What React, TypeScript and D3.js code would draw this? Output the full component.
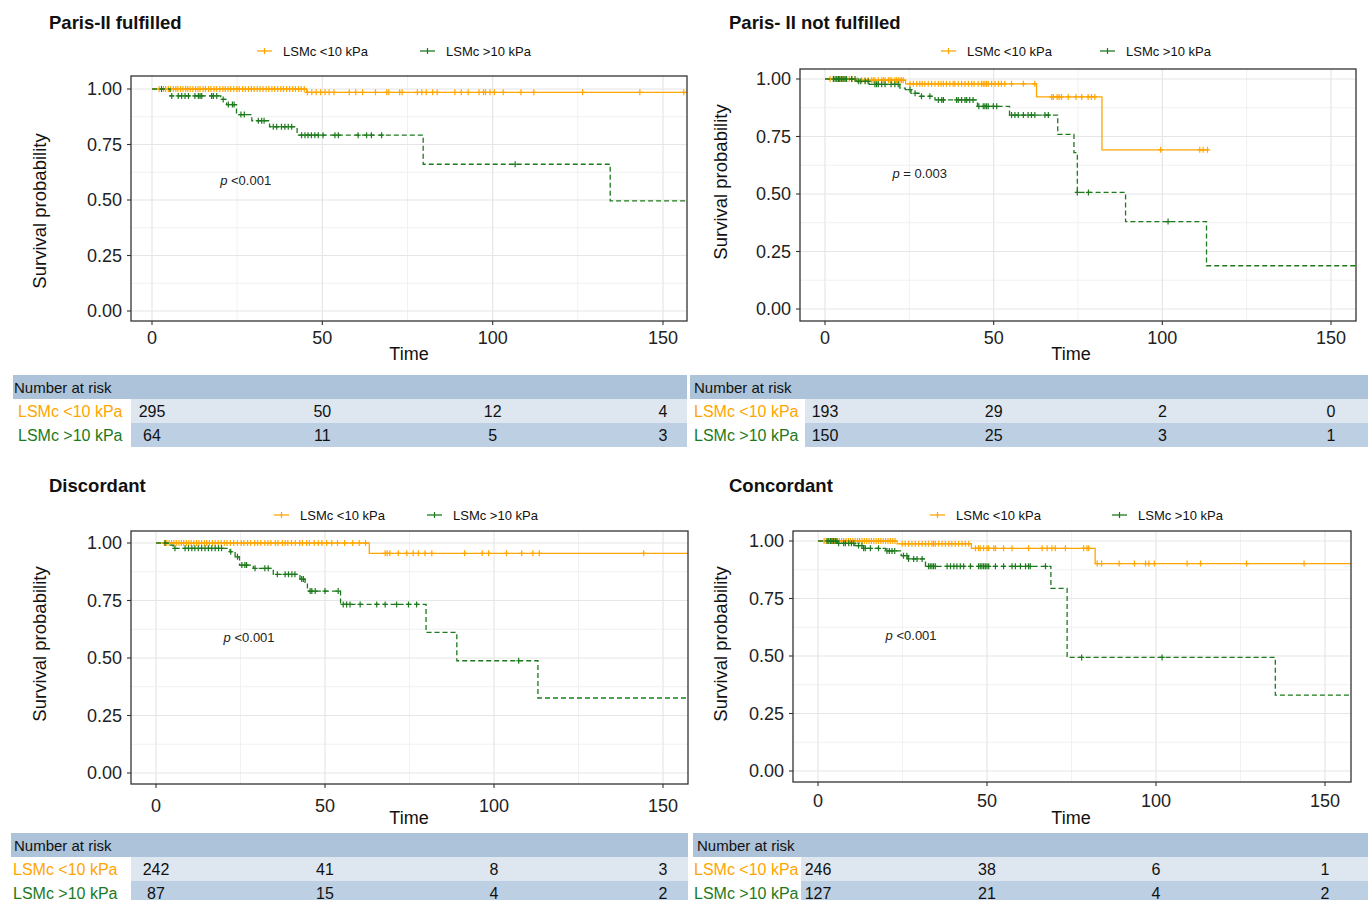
import React from "react";
import * as d3 from "d3";

const ORANGE = "#FFA500";
const GREEN = "#1C7A1C";
const FONT = "'Liberation Sans', Arial, Helvetica, sans-serif";

const groupLabels = ["LSMc <10 kPa", "LSMc >10 kPa"];
const xTicks = [0, 50, 100, 150];
const xMinor = [25, 75, 125];
const yTicks = [0, 0.25, 0.5, 0.75, 1];
const yMinor = [0.125, 0.375, 0.625, 0.875];
const riskTimes = [0, 50, 100, 150];

// ---------- Panel 1: Paris-II fulfilled ----------
const p1Title = "Paris-II fulfilled";
const p1PValue = "<0.001";
const p1LowSteps: [number, number][] = [[0, 1], [45.4, 0.985]];
const p1LowEnd = 158;
const p1LowCensor = [2.1, 3.4, 4.0, 4.8, 5.5, 6.3, 7.0, 7.6, 8.4, 9.1, 9.9, 10.5, 11.2, 12.0, 12.8, 13.5, 14.1, 15.0, 15.7, 16.6, 17.3, 18.2, 19.0, 19.9, 20.8, 21.5, 22.3, 23.1, 24.0, 24.9, 25.6, 26.6, 27.4, 28.3, 29.2, 30.0, 30.9, 31.7, 32.6, 33.5, 34.3, 35.2, 36.0, 36.9, 37.8, 38.6, 39.5, 40.4, 41.3, 42.1, 43.0, 43.8, 44.7,
  45.6, 46.9, 48.2, 49.5, 50.8, 52.0, 53.4, 57.9, 59.8, 61.8, 65.6, 68.9, 69.5, 72.7, 73.4, 77.9, 79.2, 80.5, 82.4, 83.7, 88.9, 90.8, 92.8, 96.0, 97.3, 97.9, 99.2, 100.5, 103.1, 108.3, 112.1, 126.4, 143.2, 156.1];
const p1HighSteps: [number, number][] = [[0, 1], [5.3, 0.969], [20.2, 0.953], [21.9, 0.93], [24.8, 0.885], [29.3, 0.857], [34.5, 0.83], [42.6, 0.792], [79.6, 0.661], [134.5, 0.496]];
const p1HighEnd = 158;
const p1HighCensor = [2.8, 5.8, 7.7, 8.7, 9.7, 10.7, 12.6, 13.6, 14.1, 14.6, 17.5, 18.0, 19.0, 20.9, 22.4, 23.6, 24.1, 26.1, 27.1, 31.2, 32.2, 32.9, 35.6, 36.6, 38.0, 39.0, 40.0, 41.0, 43.9, 44.9, 45.8, 46.8, 47.8, 48.8, 50.2, 53.7, 54.7, 60.5, 63.0, 64.4, 67.4, 106.6];
const p1RiskLow = [295, 50, 12, 4];
const p1RiskHigh = [64, 11, 5, 3];

// ---------- Panel 2: Paris- II not fulfilled ----------
const p2Title = "Paris- II not fulfilled";
const p2PValue = "= 0.003";
const p2LowSteps: [number, number][] = [[0, 1], [9.0, 0.995], [23.9, 0.979], [62.7, 0.922], [82.1, 0.692]];
const p2LowEnd = 113.6;
const p2LowCensor = [1.5, 2.5, 3.6, 4.4, 5.3, 6.1, 7.2, 8.0, 9.6, 10.9, 11.9, 12.8, 13.8, 14.3, 14.8, 15.8, 16.8, 17.3, 17.8, 18.8, 19.3, 19.8, 20.7, 21.2, 21.7, 22.2, 22.7, 23.2,
  25.2, 26.2, 27.2, 28.1, 28.8, 29.6, 30.6, 31.6, 32.6, 33.6, 34.4, 35.1, 36.0, 37.0, 38.0, 38.5, 39.5, 40.5, 41.5, 42.5, 43.5, 44.2, 45.4, 46.4, 46.9, 47.4, 47.9, 48.4, 49.4, 50.4, 51.4, 52.3, 53.3, 55.3, 58.8, 62.2,
  67.2, 67.7, 68.8, 69.4, 70.1, 72.1, 74.4, 76.1, 78.0, 79.0, 80.0, 99.5, 111.1, 112.1, 113.4];
const p2HighSteps: [number, number][] = [[0, 1], [9.2, 0.99], [13.1, 0.977], [22.2, 0.96], [23.8, 0.954], [25.5, 0.938], [28.1, 0.925], [32.6, 0.909], [45.2, 0.881], [54.7, 0.843], [69.0, 0.759], [73.8, 0.68], [74.8, 0.507], [89.1, 0.38], [113.1, 0.188]];
const p2HighEnd = 158;
const p2HighCensor = [2.5, 3.0, 3.5, 4.0, 4.4, 4.9, 5.4, 5.9, 6.4, 7.9, 8.9, 10.0, 10.6, 11.9, 12.8, 14.8, 15.3, 15.8, 16.8, 17.8, 19.6, 20.7, 21.7, 25.2, 26.7, 28.6, 31.1, 33.6, 34.6, 35.1, 39.0, 39.5, 40.5, 41.5, 42.0, 42.9, 43.9, 45.6, 46.9, 47.4, 47.9, 48.4, 49.9, 50.9, 55.3, 56.3, 57.3, 58.8, 60.2, 61.2, 62.2, 65.2, 66.2, 74.8, 78.1, 101.7];
const p2RiskLow = [193, 29, 2, 0];
const p2RiskHigh = [150, 25, 3, 1];

// ---------- Panel 3: Discordant ----------
const p3Title = "Discordant";
const p3PValue = "<0.001";
const p3LowSteps: [number, number][] = [[0, 1], [63.1, 0.955]];
const p3LowEnd = 158;
const p3LowCensor = [2.5, 3.2, 3.9, 4.6, 5.3, 6.0, 6.8, 7.5, 8.2, 9.0, 9.7, 10.4, 11.2, 12.0, 12.7, 13.5, 14.3, 15.0, 15.8, 16.7, 17.5, 18.4, 19.3, 20.2, 21.0, 22.0, 23.0, 24.1, 25.2, 26.0, 27.1, 28.0, 29.2, 30.1, 31.0, 32.2, 33.1, 34.0, 35.3, 36.1, 37.4, 38.2, 39.0, 40.1, 41.2, 42.5, 43.3, 44.6, 45.4, 46.8, 48.0, 49.1, 50.5, 52.0, 53.7, 55.8, 58.2, 60.1, 62.0,
  67.8, 68.4, 69.2, 71.7, 74.2, 76.1, 77.6, 79.6, 81.6, 91.3, 96.5, 98.4, 103.7, 108.2, 111.5, 113.4, 144.3];
const p3HighSteps: [number, number][] = [[0, 1], [4.3, 0.991], [5.1, 0.977], [21.9, 0.962], [23.4, 0.94], [24.7, 0.904], [28.8, 0.89], [34.7, 0.864], [42.6, 0.843], [44.1, 0.825], [44.8, 0.791], [54.6, 0.733], [79.9, 0.611], [89.0, 0.488], [113.0, 0.326]];
const p3HighEnd = 158;
const p3HighCensor = [2.7, 5.6, 8.6, 9.6, 10.6, 11.5, 12.5, 13.5, 14.5, 15.5, 16.5, 17.5, 18.5, 19.4, 22.1, 24.1, 25.4, 26.3, 26.8, 29.3, 32.2, 33.2, 35.9, 38.2, 39.2, 40.2, 41.1, 43.1, 43.6, 45.6, 46.1, 47.1, 50.0, 53.9, 55.4, 56.4, 57.4, 60.4, 65.3, 67.8, 71.2, 74.7, 77.1, 107.3];
const p3RiskLow = [242, 41, 8, 3];
const p3RiskHigh = [87, 15, 4, 2];

// ---------- Panel 4: Concordant ----------
const p4Title = "Concordant";
const p4PValue = "<0.001";
const p4LowSteps: [number, number][] = [[0, 1], [23.4, 0.988], [45.4, 0.968], [82.0, 0.902]];
const p4LowEnd = 158;
const p4LowCensor = [1.8, 2.4, 3.0, 3.7, 4.3, 5.0, 5.6, 6.3, 7.0, 7.6, 8.3, 9.0, 9.6, 10.3, 11.0, 11.7, 12.3, 13.0, 13.7, 14.4, 15.1, 15.8, 16.5, 17.2, 17.9, 18.6, 19.3, 20.0, 20.7, 21.4, 22.1, 22.8,
  24.9, 25.8, 26.8, 27.8, 28.8, 29.8, 30.8, 31.8, 32.7, 33.7, 34.2, 34.7, 35.7, 36.7, 37.7, 38.7, 39.6, 40.6, 41.6, 42.6, 43.6, 44.6,
  46.6, 47.5, 48.0, 49.0, 50.0, 50.5, 52.0, 52.5, 54.9, 57.4, 62.3, 66.3, 67.8, 69.2, 70.2, 73.2, 78.6, 79.6, 80.1,
  82.6, 83.9, 89.1, 93.6, 96.9, 97.9, 99.5, 109.2, 113.2, 126.8, 143.8];
const p4HighSteps: [number, number][] = [[0, 1], [5.7, 0.99], [10.9, 0.98], [13.5, 0.968], [20.0, 0.957], [24.6, 0.936], [26.6, 0.922], [31.8, 0.89], [68.9, 0.794], [73.7, 0.494], [135.3, 0.33]];
const p4HighEnd = 158;
const p4HighCensor = [2.7, 3.2, 3.7, 4.1, 4.6, 5.1, 5.6, 6.1, 7.6, 8.1, 9.1, 9.9, 10.6, 12.0, 13.0, 13.5, 14.0, 15.5, 17.9, 20.4, 21.1, 21.9, 22.7, 25.3, 26.3, 26.8, 28.3, 29.3, 30.8, 32.7, 33.2, 33.7, 34.2, 34.7, 38.2, 39.2, 40.2, 41.1, 42.1, 43.1, 45.1, 47.5, 48.0, 48.5, 49.0, 49.5, 50.0, 50.5, 52.5, 54.9, 57.4, 58.4, 59.9, 61.4, 62.3, 62.8, 67.3, 78.0, 101.8];
const p4RiskLow = [246, 38, 6, 1];
const p4RiskHigh = [127, 21, 4, 2];

type Series = { steps: [number, number][]; end: number; censor: number[]; color: string; dash?: string };

interface PanelCfg {
  id: string;
  title: string;
  titleX: number;
  titleY: number;
  pval: string;
  box: { l: number; r: number; t: number; b: number };
  x0: number; x150: number; y0: number; y1: number;
  legendY: number; legOX: number; legGX: number;
  yTitleX: number; yTitleY: number;
  timeX: number; timeY: number;
  xTickY: number;
  series: Series[];
  table: { l: number; r: number; top: number; labelR: number; labelX: number; headerX: number; low: number[]; high: number[] };
}

function survAt(steps: [number, number][], t: number) {
  let s = steps[0][1];
  for (const [tt, v] of steps) if (tt <= t) s = v;
  return s;
}

function Panel({ c }: { c: PanelCfg }) {
  const x = d3.scaleLinear().domain([0, 150]).range([c.x0, c.x150]);
  const y = d3.scaleLinear().domain([0, 1]).range([c.y0, c.y1]);
  const line = d3.line<[number, number]>().x((d) => x(d[0])).y((d) => y(d[1])).curve(d3.curveStepAfter);
  const { l, r, t, b } = c.box;
  const tb = c.table;
  const rowH = 24;
  const legendKey = (cx: number, color: string) => (
    <g>
      <line x1={cx} x2={cx + 15} y1={c.legendY} y2={c.legendY} stroke={color} strokeWidth={1.3} />
      <line x1={cx + 7.5} x2={cx + 7.5} y1={c.legendY - 3} y2={c.legendY + 3} stroke={color} strokeWidth={1.2} />
    </g>
  );
  return (
    <g>
      <text x={c.titleX} y={c.titleY} fontFamily={FONT} fontWeight="bold" fontSize={18.5} fill="#111" dominantBaseline="central">{c.title}</text>
      {legendKey(c.legOX, ORANGE)}
      <text x={c.legOX + 26} y={c.legendY} fontFamily={FONT} fontSize={13} fill="#111" dominantBaseline="central">{groupLabels[0]}</text>
      {legendKey(c.legGX, GREEN)}
      <text x={c.legGX + 26} y={c.legendY} fontFamily={FONT} fontSize={13} fill="#111" dominantBaseline="central">{groupLabels[1]}</text>

      <clipPath id={`clip-${c.id}`}>
        <rect x={l} y={t} width={r - l} height={b - t} />
      </clipPath>
      <rect x={l} y={t} width={r - l} height={b - t} fill="#fff" />
      {yMinor.map((v) => (
        <line key={`ym${v}`} x1={l} x2={r} y1={y(v)} y2={y(v)} stroke="#f1f1f1" strokeWidth={1} />
      ))}
      {xMinor.map((v) => (
        <line key={`xm${v}`} x1={x(v)} x2={x(v)} y1={t} y2={b} stroke="#f1f1f1" strokeWidth={1} />
      ))}
      {yTicks.map((v) => (
        <line key={`y${v}`} x1={l} x2={r} y1={y(v)} y2={y(v)} stroke="#e6e6e6" strokeWidth={1.2} />
      ))}
      {xTicks.map((v) => (
        <line key={`x${v}`} x1={x(v)} x2={x(v)} y1={t} y2={b} stroke="#e6e6e6" strokeWidth={1.2} />
      ))}
      <g clipPath={`url(#clip-${c.id})`}>
        {c.series.map((s, i) => {
          const pts: [number, number][] = [...s.steps, [s.end, s.steps[s.steps.length - 1][1]]];
          return (
            <g key={i}>
              <path d={line(pts) || ""} fill="none" stroke={s.color} strokeWidth={1.3} strokeDasharray={s.dash} />
              {s.censor.map((ct, j) => {
                const cx = x(ct);
                const cy = y(survAt(s.steps, ct));
                return <path key={j} d={`M${cx - 2.6},${cy}H${cx + 2.6}M${cx},${cy - 3}V${cy + 3}`} stroke={s.color} strokeWidth={1.2} fill="none" />;
              })}
            </g>
          );
        })}
      </g>
      <text x={x(20)} y={y(0.59)} fontFamily={FONT} fontSize={13} fill="#222" dominantBaseline="central">
        <tspan fontStyle="italic">p</tspan> {c.pval}
      </text>
      <rect x={l} y={t} width={r - l} height={b - t} fill="none" stroke="#333" strokeWidth={1.3} />
      {yTicks.map((v) => (
        <g key={`yt${v}`}>
          <line x1={l - 4} x2={l} y1={y(v)} y2={y(v)} stroke="#333" strokeWidth={1.1} />
          <text x={l - 9} y={y(v)} textAnchor="end" dominantBaseline="central" fontFamily={FONT} fontSize={18} fill="#222">{d3.format(".2f")(v)}</text>
        </g>
      ))}
      {xTicks.map((v) => (
        <g key={`xt${v}`}>
          <line x1={x(v)} x2={x(v)} y1={b} y2={b + 4} stroke="#333" strokeWidth={1.1} />
          <text x={x(v)} y={c.xTickY} textAnchor="middle" dominantBaseline="central" fontFamily={FONT} fontSize={18} fill="#222">{v}</text>
        </g>
      ))}
      <text x={c.timeX} y={c.timeY} textAnchor="middle" dominantBaseline="central" fontFamily={FONT} fontSize={18} fill="#111">Time</text>
      <text transform={`translate(${c.yTitleX},${c.yTitleY}) rotate(-90)`} textAnchor="middle" dominantBaseline="central" fontFamily={FONT} fontSize={18.5} fill="#111">Survival probability</text>

      {/* risk table */}
      <rect x={tb.l} y={tb.top} width={tb.r - tb.l} height={rowH} fill="#adc3d9" />
      <text x={tb.headerX} y={tb.top + rowH / 2} dominantBaseline="central" fontFamily={FONT} fontSize={15} fill="#111">Number at risk</text>
      <rect x={tb.labelR} y={tb.top + rowH} width={tb.r - tb.labelR} height={rowH} fill="#dee6f0" />
      <rect x={tb.labelR} y={tb.top + 2 * rowH} width={tb.r - tb.labelR} height={rowH} fill="#bccfe3" />
      <text x={tb.labelX} y={tb.top + rowH * 1.5} dominantBaseline="central" fontFamily={FONT} fontSize={16} fill={ORANGE}>{groupLabels[0]}</text>
      <text x={tb.labelX} y={tb.top + rowH * 2.5} dominantBaseline="central" fontFamily={FONT} fontSize={16} fill={GREEN}>{groupLabels[1]}</text>
      {riskTimes.map((rt, i) => (
        <g key={`rk${rt}`}>
          <text x={x(rt)} y={tb.top + rowH * 1.5} textAnchor="middle" dominantBaseline="central" fontFamily={FONT} fontSize={16} fill="#111">{tb.low[i]}</text>
          <text x={x(rt)} y={tb.top + rowH * 2.5} textAnchor="middle" dominantBaseline="central" fontFamily={FONT} fontSize={16} fill="#111">{tb.high[i]}</text>
        </g>
      ))}
    </g>
  );
}

const panels: PanelCfg[] = [
  {
    id: "p1", title: p1Title, titleX: 49, titleY: 22, pval: p1PValue,
    box: { l: 131, r: 687, t: 76, b: 321 }, x0: 152, x150: 663, y0: 311, y1: 89,
    legendY: 51, legOX: 257, legGX: 420, yTitleX: 39, yTitleY: 211, timeX: 409, timeY: 354, xTickY: 338,
    series: [
      { steps: p1LowSteps, end: p1LowEnd, censor: p1LowCensor, color: ORANGE },
      { steps: p1HighSteps, end: p1HighEnd, censor: p1HighCensor, color: GREEN, dash: "5,3" },
    ],
    table: { l: 13, r: 687, top: 375, labelR: 131, labelX: 18, headerX: 14, low: p1RiskLow, high: p1RiskHigh },
  },
  {
    id: "p2", title: p2Title, titleX: 729, titleY: 22, pval: p2PValue,
    box: { l: 800, r: 1356, t: 69, b: 321 }, x0: 825, x150: 1331, y0: 309, y1: 79,
    legendY: 51, legOX: 941, legGX: 1100, yTitleX: 720, yTitleY: 182, timeX: 1071, timeY: 354, xTickY: 338,
    series: [
      { steps: p2LowSteps, end: p2LowEnd, censor: p2LowCensor, color: ORANGE },
      { steps: p2HighSteps, end: p2HighEnd, censor: p2HighCensor, color: GREEN, dash: "5,3" },
    ],
    table: { l: 690, r: 1368, top: 375, labelR: 805, labelX: 694, headerX: 694, low: p2RiskLow, high: p2RiskHigh },
  },
  {
    id: "p3", title: p3Title, titleX: 49, titleY: 485, pval: p3PValue,
    box: { l: 131, r: 688, t: 531, b: 784 }, x0: 156, x150: 663, y0: 773, y1: 543,
    legendY: 515, legOX: 274, legGX: 427, yTitleX: 39, yTitleY: 644, timeX: 409, timeY: 818, xTickY: 806,
    series: [
      { steps: p3LowSteps, end: p3LowEnd, censor: p3LowCensor, color: ORANGE },
      { steps: p3HighSteps, end: p3HighEnd, censor: p3HighCensor, color: GREEN, dash: "5,3" },
    ],
    table: { l: 11, r: 688, top: 833, labelR: 131, labelX: 13, headerX: 14, low: p3RiskLow, high: p3RiskHigh },
  },
  {
    id: "p4", title: p4Title, titleX: 729, titleY: 485, pval: p4PValue,
    box: { l: 793, r: 1351, t: 531, b: 782 }, x0: 818, x150: 1325, y0: 771, y1: 541,
    legendY: 515, legOX: 930, legGX: 1112, yTitleX: 720, yTitleY: 644, timeX: 1071, timeY: 818, xTickY: 801,
    series: [
      { steps: p4LowSteps, end: p4LowEnd, censor: p4LowCensor, color: ORANGE },
      { steps: p4HighSteps, end: p4HighEnd, censor: p4HighCensor, color: GREEN, dash: "5,3" },
    ],
    table: { l: 693, r: 1368, top: 833, labelR: 801, labelX: 694, headerX: 697, low: p4RiskLow, high: p4RiskHigh },
  },
];

export default function App() {
  return (
    <svg width={1368} height={900} style={{ position: "absolute", left: 0, top: 0, display: "block", background: "#fff" }}>
      <rect x={0} y={0} width={1368} height={900} fill="#fff" />
      {panels.map((p) => (
        <Panel key={p.id} c={p} />
      ))}
    </svg>
  );
}
